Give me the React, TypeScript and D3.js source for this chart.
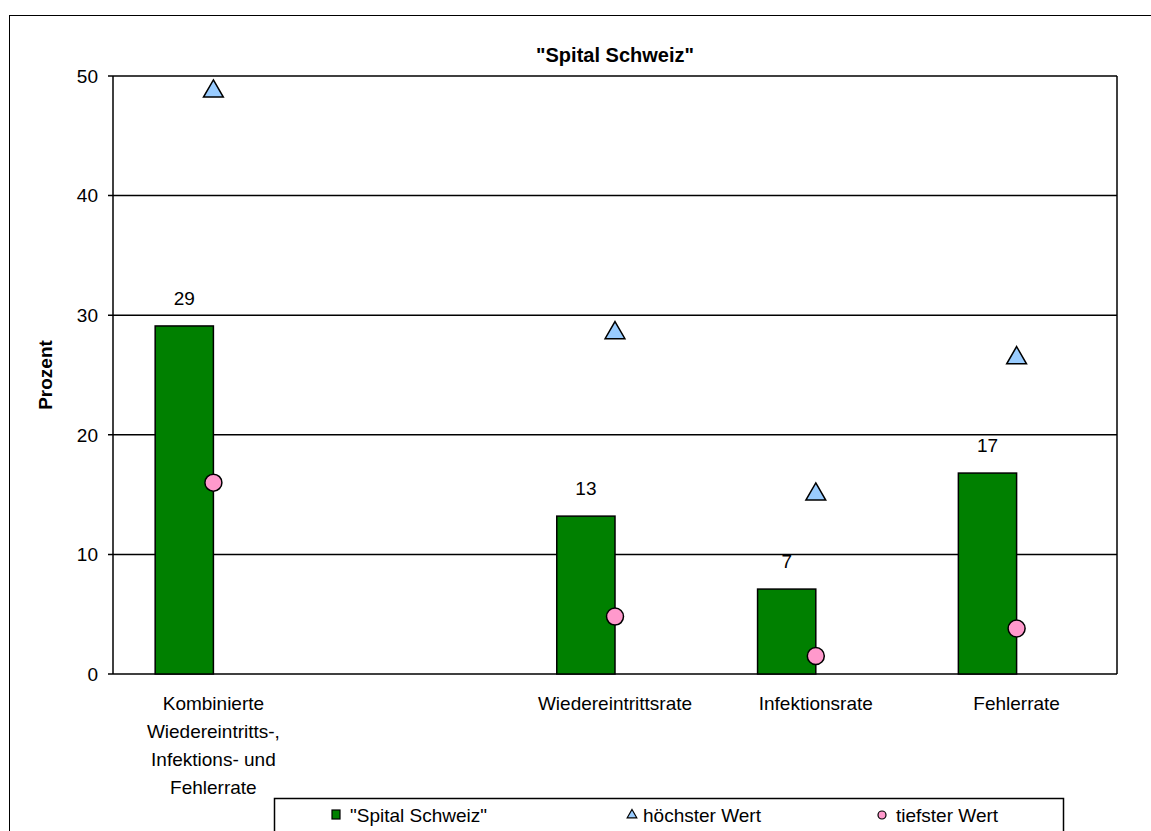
import React from "react";
import * as d3 from "d3";

const categories = [
  "Kombinierte Wiedereintritts-, Infektions- und Fehlerrate",
  "",
  "Wiedereintrittsrate",
  "Infektionsrate",
  "Fehlerrate",
];
const categoryLines: string[][] = [
  ["Kombinierte", "Wiedereintritts-,", "Infektions- und", "Fehlerrate"],
  [],
  ["Wiedereintrittsrate"],
  ["Infektionsrate"],
  ["Fehlerrate"],
];
const spitalSchweiz: (number | null)[] = [29.1, null, 13.2, 7.1, 16.8];
const hoechsterWert: (number | null)[] = [48.8, null, 28.6, 15.1, 26.5];
const tiefsterWert: (number | null)[] = [16.0, null, 4.8, 1.5, 3.8];
const yTicks = [0, 10, 20, 30, 40, 50];
const legendLabels = ['"Spital Schweiz"', "höchster Wert", "tiefster Wert"];
const title = '"Spital Schweiz"';
const yTitle = "Prozent";

const W = 1151;
const H = 831;
const FONT = "'Liberation Sans', Arial, sans-serif";
const GREEN = "#008000";
const BLUE = "#99CCFF";
const PINK = "#FF99CC";

export default function App() {
  const plotL = 113;
  const plotR = 1117;
  const plotT = 76;
  const plotB = 674;
  const x = d3.scaleBand<string>().domain(categories.map((c, i) => String(i))).range([plotL, plotR]).padding(0);
  const y = d3.scaleLinear().domain([0, 50]).range([plotB, plotT]);
  const bw = x.bandwidth();
  const barW = bw * 0.29;
  const cx = (i: number) => (x(String(i)) as number) + bw / 2;
  const tri = d3.symbol().type(d3.symbolTriangle).size(170)();
  const fs = 19;

  return (
    <svg width={W} height={H} style={{ position: "absolute", left: 0, top: 0, background: "#fff" }} fontFamily={FONT}>
      <rect x={0} y={0} width={W} height={H} fill="#fff" />
      <rect x={9.5} y={15.5} width={W + 10} height={H + 10} fill="none" stroke="#000" strokeWidth={1} />
      <text x={(plotL + plotR) / 2} y={62} textAnchor="middle" fontWeight="bold" fontSize={20}>
        {title}
      </text>
      {yTicks.map((t) => (
        <line key={"g" + t} x1={plotL - 5} x2={plotR} y1={y(t)} y2={y(t)} stroke="#000" strokeWidth={1.5} />
      ))}
      <line x1={plotL} x2={plotL} y1={plotT} y2={plotB} stroke="#000" strokeWidth={1.5} />
      <line x1={plotR} x2={plotR} y1={plotT} y2={plotB} stroke="#000" strokeWidth={1.5} />
      {yTicks.map((t) => (
        <text key={"t" + t} x={plotL - 15} y={y(t)} dy="0.36em" textAnchor="end" fontSize={fs}>
          {t}
        </text>
      ))}
      <text transform={`translate(52,${(plotT + plotB) / 2}) rotate(-90)`} textAnchor="middle" fontWeight="bold" fontSize={fs}>
        {yTitle}
      </text>
      {spitalSchweiz.map((v, i) =>
        v == null ? null : (
          <g key={"b" + i}>
            <rect x={cx(i) - barW} y={y(v)} width={barW} height={y(0) - y(v)} fill={GREEN} stroke="#000" strokeWidth={1.5} />
            <text x={cx(i) - barW / 2} y={y(v) - 21} textAnchor="middle" fontSize={fs}>
              {d3.format(".0f")(v)}
            </text>
          </g>
        )
      )}
      {hoechsterWert.map((v, i) =>
        v == null ? null : (
          <path key={"h" + i} d={tri as string} transform={`translate(${cx(i)},${y(v) + 1})`} fill={BLUE} stroke="#000" strokeWidth={1.5} />
        )
      )}
      {tiefsterWert.map((v, i) =>
        v == null ? null : (
          <circle key={"l" + i} cx={cx(i)} cy={y(v)} r={8.5} fill={PINK} stroke="#000" strokeWidth={1.5} />
        )
      )}
      {categoryLines.map((lines, i) =>
        lines.map((ln, j) => (
          <text key={"c" + i + "_" + j} x={cx(i)} y={703 + j * 28} dy="0.36em" textAnchor="middle" fontSize={fs}>
            {ln}
          </text>
        ))
      )}
      <rect x={274.5} y={798.5} width={789} height={60} fill="#fff" stroke="#000" strokeWidth={1.5} />
      <g fontSize={fs}>
        <rect x={332} y={810} width={8} height={9} fill={GREEN} stroke="#000" strokeWidth={1.2} />
        <text x={350} y={815} dy="0.36em">{legendLabels[0]}</text>
        <path d={d3.symbol().type(d3.symbolTriangle).size(40)() as string} transform={`translate(632,815)`} fill={BLUE} stroke="#000" strokeWidth={1.2} />
        <text x={643} y={815} dy="0.36em">{legendLabels[1]}</text>
        <circle cx={882} cy={815} r={4} fill={PINK} stroke="#000" strokeWidth={1.2} />
        <text x={896} y={815} dy="0.36em">{legendLabels[2]}</text>
      </g>
    </svg>
  );
}
